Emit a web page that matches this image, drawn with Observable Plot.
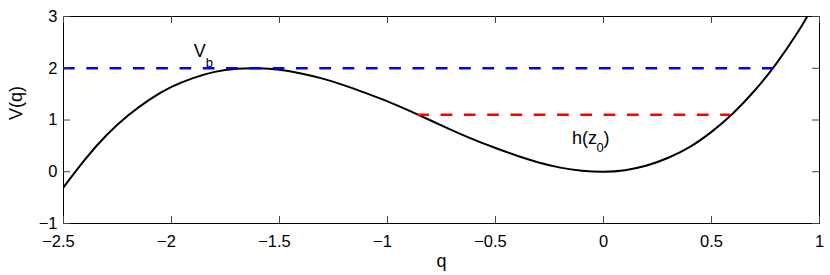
<!DOCTYPE html>
<html><head><meta charset="utf-8">
<script src="https://cdn.jsdelivr.net/npm/d3@7"></script>
<script src="https://cdn.jsdelivr.net/npm/@observablehq/plot@0.6"></script>
<style>
html,body{margin:0;padding:0;background:#fff;}
svg text{font-family:"Liberation Sans",Arial,Helvetica,sans-serif;}
</style></head><body><div id="chart"></div>
<script>
// Curve V(q)
const qValues = [-2.5,-2.4,-2.3,-2.2,-2.1,-2.0,-1.9,-1.8,-1.7,-1.6,-1.5,-1.4,-1.3,-1.2,-1.1,-1.0,-0.9,-0.8,-0.7,-0.6,-0.5,-0.4,-0.3,-0.2,-0.1,0,0.1,0.2,0.3,0.4,0.5,0.6,0.7,0.8,0.9,0.95];
const vValues = [-0.30,0.24,0.71,1.09,1.40,1.64,1.81,1.93,1.99,2.00,1.97,1.90,1.80,1.67,1.52,1.36,1.18,0.99,0.80,0.62,0.46,0.31,0.18,0.08,0.02,0,0.03,0.12,0.27,0.48,0.77,1.13,1.57,2.09,2.70,3.05];

// Dashed levels
const levelValues = [2, 1.1];
const levelStart = [-2.5, -0.86];
const levelEnd = [0.785, 0.588];
const levelColors = ["#0000ff", "#ff0000"];

// Annotations
const noteText = ["V", "h(z"];
const noteSub = ["b", "0"];
const noteQ = [-1.897, -0.146];
const noteV = [2.222, 0.544];

// Ticks
const xTicks = [-2.5,-2,-1.5,-1,-0.5,0,0.5,1];
const yTicks = [-1,0,1,2,3];
const xLabel = "q";
const yLabel = "V(q)";

const W = 830, H = 275, mL = 63, mR = 11, mT = 16, mB = 52;
const plotW = W - mL - mR, plotH = H - mT - mB, tick = 7;
const FS = 16.5, LFS = 18;

const curve = qValues.map((q, i) => ({q, v: vValues[i]}));
const levels = levelValues.map((v, i) => ({v, q1: levelStart[i], q2: levelEnd[i], c: levelColors[i]}));
const notes = noteText.map((t, i) => ({t, s: noteSub[i], q: noteQ[i], v: noteV[i]}));
const fmt = d => (d < 0 ? "\u2212" + Math.abs(d) : String(d));

const chart = Plot.plot({
  width: W, height: H,
  marginLeft: mL, marginRight: mR, marginTop: mT, marginBottom: mB,
  x: {domain: [-2.5, 1], axis: null},
  y: {domain: [-1, 3], axis: null},
  color: {type: "identity"},
  style: {fontFamily: "'Liberation Sans', Arial, sans-serif", background: "#fff"},
  marks: [
    Plot.line(curve, {x: "q", y: "v", stroke: "#000", strokeWidth: 2, curve: "natural", clip: true}),
    Plot.ruleY(levels, {y: "v", x1: "q1", x2: "q2", stroke: "c", strokeWidth: 2.5, strokeDasharray: "11.7,11.6"}),
    Plot.frame({stroke: "#000", strokeWidth: 1}),
    Plot.tickX(xTicks, {x: d => d, insetTop: plotH - tick, stroke: "#444"}),
    Plot.tickX(xTicks, {x: d => d, insetBottom: plotH - tick, stroke: "#444"}),
    Plot.tickY(yTicks, {y: d => d, insetRight: plotW - tick, stroke: "#444"}),
    Plot.tickY(yTicks, {y: d => d, insetLeft: plotW - tick, stroke: "#444"}),
    Plot.text(xTicks.filter(d => d >= 0), {x: d => d, frameAnchor: "bottom", lineAnchor: "top", dy: 12, text: fmt, fontSize: FS, fill: "#000", ariaLabel: "tick-label"}),
    Plot.text(xTicks.filter(d => d < 0), {x: d => d, frameAnchor: "bottom", lineAnchor: "top", dy: 12, dx: -5, text: fmt, fontSize: FS, fill: "#000", ariaLabel: "tick-label"}),
    Plot.text(yTicks, {y: d => d, frameAnchor: "left", textAnchor: "end", lineAnchor: "middle", dx: -6, text: fmt, fontSize: FS, fill: "#000", ariaLabel: "tick-label"}),
    Plot.text([xLabel], {frameAnchor: "bottom", lineAnchor: "bottom", dy: 43, text: d => d, fontSize: LFS, fill: "#000"}),
    Plot.text([yLabel], {frameAnchor: "left", lineAnchor: "bottom", rotate: -90, dx: -42, text: d => d, fontSize: LFS, fill: "#000"}),
    Plot.text(notes, {x: "q", y: "v", text: "t", textAnchor: "start", lineAnchor: "bottom", fontSize: LFS, fill: "#000"}),
    Plot.text(notes.slice(0, 1), {x: "q", y: "v", text: "s", textAnchor: "start", lineAnchor: "bottom", dx: 12, dy: 10, fontSize: 13, fill: "#000"}),
    Plot.text(notes.slice(1, 2), {x: "q", y: "v", text: "s", textAnchor: "start", lineAnchor: "bottom", dx: 24.5, dy: 8.4, fontSize: 13, fill: "#000"}),
    Plot.text(notes.slice(1, 2), {x: "q", y: "v", text: () => ")", textAnchor: "start", lineAnchor: "bottom", dx: 31.5, fontSize: LFS, fill: "#000"})
  ]
});

// widen tick label glyphs to match the reference's wide sans-serif
chart.querySelectorAll('g[aria-label="tick-label"] text').forEach(t => {
  const tr = t.getAttribute("transform") || "";
  t.setAttribute("transform", tr + " scale(1.12,1)");
});
document.getElementById("chart").appendChild(chart);
</script>
</body></html>
